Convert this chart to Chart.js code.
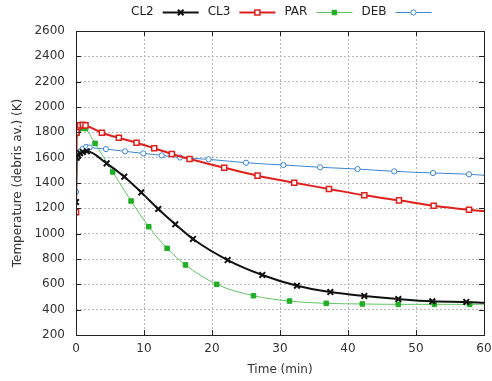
<!DOCTYPE html>
<html>
<head>
<meta charset="utf-8">
<script src="https://cdn.jsdelivr.net/npm/chart.js@4/dist/chart.umd.min.js"></script>
<style>
  html, body { margin: 0; padding: 0; background: #fff; }
  #wrap { width: 492px; height: 381px; }
</style>
</head>
<body>
<div id="wrap"><canvas id="c" width="492" height="381"></canvas></div>
<script>
// данные: время в минутах, температура в K
var cl2Time = [0, 0.1, 0.3, 0.6, 1.0, 1.6, 4.5, 7.1, 9.6, 12.1, 14.6, 17.2, 22.3, 27.4, 32.5, 37.4, 42.4, 47.4, 52.4, 57.4, 60];
var cl2Temp = [1250, 1600, 1620, 1635, 1645, 1650, 1555, 1450, 1326, 1195, 1074, 958, 792, 674, 589, 539, 508, 484, 466, 461, 455];

var cl3Time = [0, 0.1, 0.3, 0.6, 1.0, 1.4, 3.8, 6.3, 8.9, 11.5, 14.1, 16.7, 21.8, 26.7, 32.1, 37.2, 42.4, 47.5, 52.6, 57.8, 60];
var cl3Temp = [1170, 1800, 1845, 1855, 1860, 1855, 1797, 1757, 1718, 1674, 1629, 1589, 1521, 1458, 1402, 1353, 1303, 1263, 1221, 1189, 1178];

var parTime = [0, 0.1, 0.3, 0.6, 1.0, 1.4, 2.8, 5.4, 8.1, 10.7, 13.4, 16.1, 20.7, 26.1, 31.4, 36.8, 42.1, 47.4, 52.7, 57.9, 60];
var parTemp = [1170, 1790, 1815, 1830, 1840, 1830, 1713, 1487, 1258, 1055, 884, 753, 600, 510, 468, 450, 445, 442, 442, 442, 443];

var debTime = [0, 0.1, 0.3, 0.6, 1.0, 1.5, 2.0, 4.4, 7.2, 9.9, 12.6, 15.3, 19.5, 25.0, 30.5, 35.9, 41.4, 46.8, 52.5, 57.8, 60];
var debTemp = [1330, 1600, 1630, 1650, 1670, 1685, 1680, 1668, 1650, 1634, 1618, 1601, 1587, 1560, 1542, 1524, 1510, 1492, 1479, 1469, 1461];

var seriesNames = ['CL2', 'CL3', 'PAR', 'DEB'];
var xTicks = [0, 10, 20, 30, 40, 50, 60];
var yTicks = [200, 400, 600, 800, 1000, 1200, 1400, 1600, 1800, 2000, 2200, 2400, 2600];

var FONT = '"DejaVu Sans", sans-serif';

function pts(t, v) {
    return t.map(function(x, i) { return { x: x, y: v[i] }; });
}

// последняя точка каждой серии без маркера
function radius(r) {
    return function(ctx) {
        return ctx.dataIndex === ctx.dataset.data.length - 1 ? 0 : r;
    };
}

var styles = [
    { line: '#111111', marker: '#111111', fill: '#111111', style: 'crossRot', r: 4, lw: 2, pw: 2 },
    { line: '#e0201c', marker: '#e0201c', fill: '#ffffff', style: 'rect', r: 3.6, lw: 2, pw: 1.5 },
    { line: '#62c462', marker: '#1fae24', fill: '#1fae24', style: 'rect', r: 3.2, lw: 1, pw: 1 },
    { line: '#3a86cf', marker: '#3a86cf', fill: '#ffffff', style: 'circle', r: 2.6, lw: 1, pw: 1 },
];

var allData = [pts(cl2Time, cl2Temp), pts(cl3Time, cl3Temp), pts(parTime, parTemp), pts(debTime, debTemp)];

var datasets = seriesNames.map(function(name, i) {
    var s = styles[i];
    return {
        label: name,
        data: allData[i],
        borderColor: s.line,
        borderWidth: s.lw,
        pointStyle: s.style,
        pointRadius: radius(s.r),
        pointBorderColor: s.marker,
        pointBackgroundColor: s.fill,
        pointBorderWidth: s.pw,
        cubicInterpolationMode: 'monotone',
        fill: false,
    };
});

// рамка, внутренние засечки и легенда в стиле gnuplot (подпись, потом образец)
var framePlugin = {
    id: 'frame',
    afterDraw: function(chart) {
        var ctx = chart.ctx;
        var a = chart.chartArea;
        var xs = chart.scales.x, ys = chart.scales.y;
        ctx.save();
        ctx.strokeStyle = '#222';
        ctx.lineWidth = 1;
        ctx.strokeRect(Math.round(a.left) + 0.5, Math.round(a.top) + 0.5,
                       Math.round(a.right - a.left), Math.round(a.bottom - a.top));
        ctx.beginPath();
        xTicks.forEach(function(t) {
            var px = Math.round(xs.getPixelForValue(t)) + 0.5;
            ctx.moveTo(px, a.bottom); ctx.lineTo(px, a.bottom - 5);
            ctx.moveTo(px, a.top); ctx.lineTo(px, a.top + 5);
        });
        yTicks.forEach(function(t) {
            var py = Math.round(ys.getPixelForValue(t)) + 0.5;
            ctx.moveTo(a.left, py); ctx.lineTo(a.left + 5, py);
            ctx.moveTo(a.right, py); ctx.lineTo(a.right - 5, py);
        });
        ctx.stroke();

        // легенда
        ctx.font = '12px ' + FONT;
        ctx.textBaseline = 'middle';
        var x = 131, y = 12;
        seriesNames.forEach(function(name, i) {
            var s = styles[i];
            ctx.fillStyle = '#222';
            ctx.textAlign = 'left';
            ctx.fillText(name, x, y);
            x += ctx.measureText(name).width + 9;
            ctx.strokeStyle = s.line;
            ctx.lineWidth = s.lw;
            ctx.beginPath();
            ctx.moveTo(x, y + 0.5); ctx.lineTo(x + 36, y + 0.5);
            ctx.stroke();
            ctx.fillStyle = s.fill;
            ctx.strokeStyle = s.marker;
            ctx.lineWidth = s.pw;
            Chart.helpers.drawPoint(ctx, {
                pointStyle: s.style, radius: s.r, borderWidth: s.pw, rotation: 0
            }, x + 18, y + 0.5);
            x += 36 + 9;
        });
        ctx.restore();
    }
};

new Chart(document.getElementById('c'), {
    type: 'line',
    data: { datasets: datasets },
    options: {
        responsive: false,
        animation: false,
        layout: { padding: { top: 31, right: 0, left: 0, bottom: 0 } },
        plugins: { legend: { display: false }, tooltip: { enabled: false } },
        scales: {
            x: {
                type: 'linear', min: 0, max: 60,
                afterFit: function(s) { s.height = 46; s.paddingRight = 8; s.paddingLeft = 0; },
                afterBuildTicks: function(s) { s.ticks = xTicks.map(function(v) { return { value: v }; }); },
                grid: { color: '#b8b8b8', lineWidth: 1, drawTicks: false },
                border: { display: false, dash: [2, 2] },
                ticks: { color: '#333', padding: 7, font: { family: FONT, size: 12 }, maxRotation: 0,
                         callback: function(v) { return String(v); } },
                title: { display: true, text: 'Time (min)', color: '#333', font: { family: FONT, size: 12 }, padding: { top: 4, bottom: 4 } },
            },
            y: {
                type: 'linear', min: 200, max: 2600,
                afterFit: function(s) { s.width = 76; },
                afterBuildTicks: function(s) { s.ticks = yTicks.map(function(v) { return { value: v }; }); },
                grid: { color: '#b8b8b8', lineWidth: 1, drawTicks: false },
                border: { display: false, dash: [2, 2] },
                ticks: { color: '#333', padding: 11, font: { family: FONT, size: 12 },
                         callback: function(v) { return String(v); } },
                title: { display: true, text: 'Temperature (debris av.) (K)', color: '#333', font: { family: FONT, size: 12 }, padding: { top: 11, bottom: 0 } },
            },
        },
    },
    plugins: [framePlugin],
});
</script>
</body>
</html>
